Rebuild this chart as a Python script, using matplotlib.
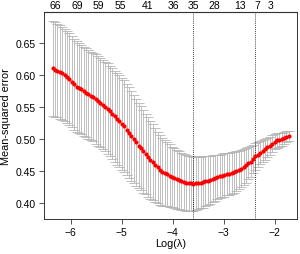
import matplotlib
matplotlib.use("Agg")
import matplotlib.pyplot as plt
import numpy as np

plt.rcParams['font.family'] = ['Liberation Sans', 'DejaVu Sans']

# lambda grid (glmnet: 100 log-spaced lambdas)
log_lambda = np.linspace(-6.35, -1.72, 100)

cv_mean = [0.611, 0.609, 0.607, 0.605, 0.603, 0.601,
           0.598, 0.594, 0.590, 0.586, 0.582,
           0.580, 0.578, 0.575, 0.573, 0.570,
           0.568, 0.566, 0.563, 0.560, 0.557,
           0.554, 0.551, 0.548, 0.544, 0.540,
           0.536, 0.532, 0.528, 0.524, 0.520,
           0.515, 0.510, 0.505, 0.500, 0.495,
           0.490, 0.486, 0.481, 0.477, 0.472,
           0.468, 0.464, 0.460, 0.456, 0.452,
           0.449, 0.447, 0.445, 0.443, 0.441,
           0.439, 0.437, 0.436, 0.434, 0.433,
           0.432, 0.431, 0.431, 0.430, 0.431,
           0.431, 0.432, 0.433, 0.434, 0.435,
           0.436, 0.438, 0.439, 0.441, 0.442,
           0.443, 0.444, 0.445, 0.446, 0.447,
           0.448, 0.450, 0.452, 0.454, 0.456,
           0.459, 0.462, 0.465, 0.469, 0.473,
           0.476, 0.479, 0.481, 0.484, 0.487,
           0.490, 0.493, 0.496, 0.498, 0.499,
           0.500, 0.502, 0.504, 0.505]

cv_se = [0.074, 0.074, 0.073, 0.073, 0.073, 0.072, 0.072, 0.072, 0.071, 0.071,
         0.071, 0.070, 0.070, 0.070, 0.069, 0.069, 0.069, 0.069, 0.070, 0.070,
         0.070, 0.070, 0.070, 0.071, 0.071, 0.071, 0.071, 0.072, 0.072, 0.072,
         0.072, 0.071, 0.071, 0.070, 0.069, 0.068, 0.067, 0.066, 0.065, 0.063,
         0.062, 0.061, 0.059, 0.058, 0.056, 0.055, 0.053, 0.052, 0.050, 0.049,
         0.047, 0.047, 0.046, 0.045, 0.045, 0.044, 0.044, 0.043, 0.043, 0.042,
         0.042, 0.041, 0.040, 0.040, 0.039, 0.038, 0.037, 0.037, 0.036, 0.035,
         0.034, 0.034, 0.034, 0.033, 0.033, 0.033, 0.032, 0.031, 0.030, 0.029,
         0.028, 0.027, 0.025, 0.024, 0.022, 0.021, 0.020, 0.018, 0.017, 0.016,
         0.015, 0.014, 0.013, 0.012, 0.012, 0.011, 0.010, 0.009, 0.009, 0.008]

lambda_min = -3.60
lambda_1se = -2.38

# number of nonzero coefficients shown on the top axis
nz_pos = [-6.294, -5.863, -5.451, -5.020, -4.484, -3.975, -3.596, -3.184, -2.680, -2.333, -2.072]
nz_labels = ['66', '69', '59', '55', '41', '36', '35', '28', '13', '7', '3']

fig = plt.figure(figsize=(3.0, 2.55), dpi=100)
ax = fig.add_axes([0.1467, 0.137, 0.8433, 0.812])

ax.errorbar(log_lambda, cv_mean, yerr=cv_se, fmt='none', ecolor='#b4b4b4',
            elinewidth=0.6, capsize=3.5, capthick=0.6, zorder=1)
ax.plot(log_lambda, cv_mean, 'o', color='red', markersize=3.0, markeredgewidth=0, zorder=3)

ax.axvline(lambda_min, color='black', linestyle=(0, (1, 1.5)), linewidth=0.6)
ax.axvline(lambda_1se, color='black', linestyle=(0, (1, 1.5)), linewidth=0.6)

ax.set_xlim(-6.52, -1.56)
ax.set_ylim(0.375, 0.699)
ax.set_xticks([-6, -5, -4, -3, -2])
ax.set_xticklabels(['\u22126', '\u22125', '\u22124', '\u22123', '\u22122'])
ax.set_yticks([0.40, 0.45, 0.50, 0.55, 0.60, 0.65])
ax.set_yticklabels(['0.40', '0.45', '0.50', '0.55', '0.60', '0.65'])
ax.tick_params(labelsize=7.5, length=3.5, width=0.6, color='#333333', pad=2)
ax.tick_params(axis='y', pad=2.5)
ax.set_xlabel('Log(\u03bb)', fontsize=7.8, labelpad=1)
ax.set_ylabel('Mean-squared error', fontsize=7.8, labelpad=3)
for s in ax.spines.values():
    s.set_linewidth(0.7)
    s.set_color('#333333')

top = ax.secondary_xaxis('top')
top.set_xticks(nz_pos)
top.set_xticklabels(nz_labels)
top.tick_params(length=0, labelsize=7.5, pad=1.5)

fig.savefig('out.png', dpi=100)
